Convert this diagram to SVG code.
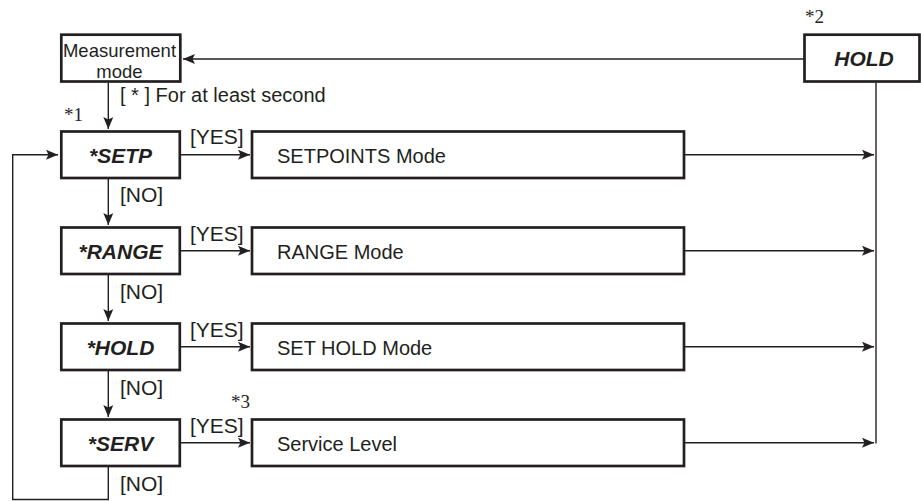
<svg xmlns="http://www.w3.org/2000/svg" width="921" height="501" viewBox="0 0 921 501">
<defs>
<style>
.box{fill:#fff;stroke:#231f20;stroke-width:2.7}
.ln{fill:none;stroke:#231f20;stroke-width:1.4}
.t{font-family:"Liberation Sans",Arial,Helvetica,sans-serif;fill:#231f20}
.n{font-size:20px}
.lab{font-size:21px}
.bi{font-size:21px;font-weight:bold;font-style:italic;text-anchor:middle}
.m{font-size:18.5px;text-anchor:middle}
.s{font-family:"Liberation Serif","Times New Roman",serif;font-size:19px;fill:#231f20}
</style>
<marker id="ah" markerUnits="userSpaceOnUse" markerWidth="12" markerHeight="10" viewBox="0 0 12 10" refX="12" refY="5" orient="auto">
<path d="M0,0 L12,5 L0,10 L2.5,5 z" fill="#231f20"/>
</marker>
</defs>
<rect width="921" height="501" fill="#fff"/>
<g id="connectors">
<path class="ln" d="M804,59 H183" marker-end="url(#ah)"/>
<path class="ln" d="M108.3,82.5 V129" marker-end="url(#ah)"/>
<path class="ln" d="M108.3,178.5 V225" marker-end="url(#ah)"/>
<path class="ln" d="M108.3,274.5 V321" marker-end="url(#ah)"/>
<path class="ln" d="M108.3,370.5 V417" marker-end="url(#ah)"/>
<path class="ln" d="M108.3,466.5 V499.5 H12.7 V154.75 H58" marker-end="url(#ah)"/>
<path class="ln" d="M181,154.75 H250" marker-end="url(#ah)"/>
<path class="ln" d="M181,250.75 H250" marker-end="url(#ah)"/>
<path class="ln" d="M181,346.75 H250" marker-end="url(#ah)"/>
<path class="ln" d="M181,442.75 H250" marker-end="url(#ah)"/>
<path class="ln" d="M685,154.75 H874" marker-end="url(#ah)"/>
<path class="ln" d="M685,250.75 H874" marker-end="url(#ah)"/>
<path class="ln" d="M685,346.75 H874" marker-end="url(#ah)"/>
<path class="ln" d="M685,442.75 H874" marker-end="url(#ah)"/>
<path class="ln" d="M876,82.5 V443.5"/>
<text class="t n" x="120" y="102">[ * ] For at least second</text>
<text class="t lab" x="190" y="144">[YES]</text>
<text class="t lab" x="190" y="240.5">[YES]</text>
<text class="t lab" x="190" y="336.5">[YES]</text>
<text class="t lab" x="190" y="432.5">[YES]</text>
<text class="t lab" x="120" y="202">[NO]</text>
<text class="t lab" x="120" y="298.5">[NO]</text>
<text class="t lab" x="120" y="394.5">[NO]</text>
<text class="t lab" x="120" y="490.5">[NO]</text>
<text class="s" x="64" y="120.5">*1</text>
<text class="s" x="805" y="22.7">*2</text>
<text class="s" x="231" y="407.5">*3</text>
</g>
<g id="measurement">
<rect class="box" x="61.3" y="34.7" width="119" height="46.8"/>
<text class="t m" x="119.5" y="56.7">Measurement</text>
<text class="t m" x="119.5" y="77.7">mode</text>
</g>
<g id="hold-top">
<rect class="box" x="804.5" y="34.7" width="115" height="46.8"/>
<text class="t bi" x="864" y="66">HOLD</text>
</g>
<g id="setp">
<rect class="box" x="61.3" y="131.5" width="118.5" height="46.5"/>
<text class="t bi" x="120.5" y="163">*SETP</text>
</g>
<g id="range">
<rect class="box" x="61.3" y="227.5" width="118.5" height="46.5"/>
<text class="t bi" x="120.5" y="259">*RANGE</text>
</g>
<g id="hold">
<rect class="box" x="61.3" y="323.5" width="118.5" height="46.5"/>
<text class="t bi" x="120.5" y="355">*HOLD</text>
</g>
<g id="serv">
<rect class="box" x="61.3" y="419.5" width="118.5" height="46.5"/>
<text class="t bi" x="120.5" y="451">*SERV</text>
</g>
<g id="setpoints-mode">
<rect class="box" x="252" y="131.5" width="432" height="46.5"/>
<text class="t n" x="277" y="162.5">SETPOINTS Mode</text>
</g>
<g id="range-mode">
<rect class="box" x="252" y="227.5" width="432" height="46.5"/>
<text class="t n" x="277" y="258.5">RANGE Mode</text>
</g>
<g id="set-hold-mode">
<rect class="box" x="252" y="323.5" width="432" height="46.5"/>
<text class="t n" x="277" y="354.5">SET HOLD Mode</text>
</g>
<g id="service-level">
<rect class="box" x="252" y="419.5" width="432" height="46.5"/>
<text class="t n" x="277" y="450.5">Service Level</text>
</g>
</svg>
